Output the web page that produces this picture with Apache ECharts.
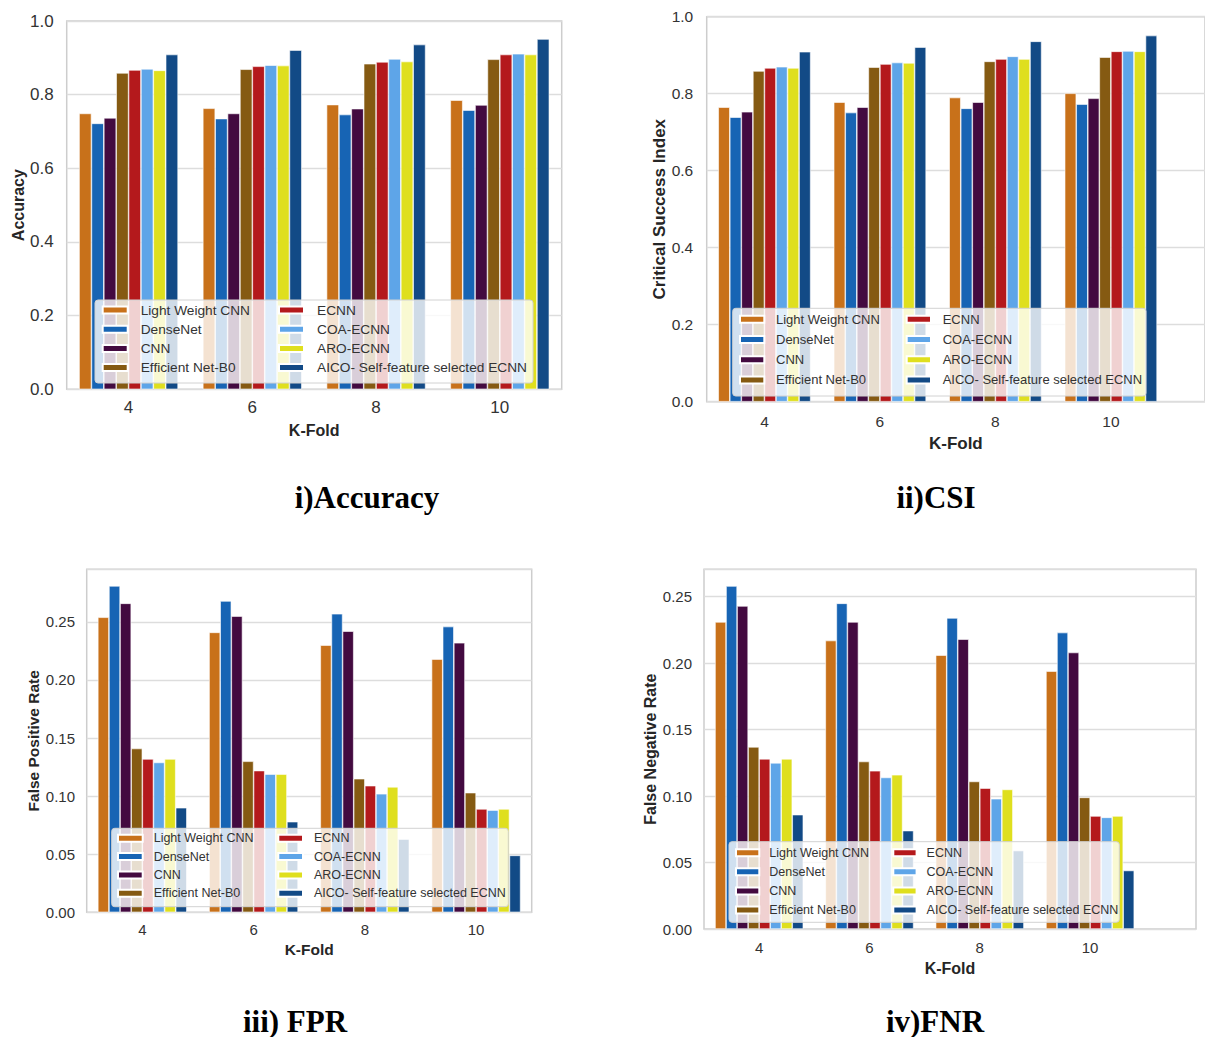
<!DOCTYPE html>
<html>
<head>
<meta charset="utf-8">
<script src="https://cdn.jsdelivr.net/npm/echarts@6/dist/echarts.min.js"></script>
<style>
  html, body { margin: 0; padding: 0; background: #ffffff; }
  #chart { width: 1205px; height: 1037px; }
</style>
</head>
<body>
<div id="chart"></div>
<script>
// ---- data -------------------------------------------------------------
const kFolds = [4, 6, 8, 10];

const models = [
  'Light Weight CNN',
  'DenseNet',
  'CNN',
  'Efficient Net-B0',
  'ECNN',
  'COA-ECNN',
  'ARO-ECNN',
  'AICO- Self-feature selected ECNN'
];

// one row per model (same order as `models`), one value per K-Fold
const accuracy = [
  [0.749, 0.763, 0.773, 0.785],
  [0.722, 0.735, 0.746, 0.758],
  [0.737, 0.749, 0.762, 0.772],
  [0.859, 0.869, 0.884, 0.896],
  [0.867, 0.877, 0.889, 0.909],
  [0.870, 0.880, 0.897, 0.911],
  [0.866, 0.879, 0.890, 0.909],
  [0.909, 0.921, 0.936, 0.951]
];

const csi = [
  [0.765, 0.778, 0.790, 0.801],
  [0.739, 0.751, 0.762, 0.773],
  [0.753, 0.765, 0.778, 0.788],
  [0.859, 0.869, 0.884, 0.895],
  [0.867, 0.877, 0.890, 0.910],
  [0.870, 0.881, 0.897, 0.911],
  [0.867, 0.880, 0.890, 0.910],
  [0.909, 0.921, 0.936, 0.951]
];

const fpr = [
  [0.254, 0.241, 0.230, 0.218],
  [0.281, 0.268, 0.257, 0.246],
  [0.266, 0.255, 0.242, 0.232],
  [0.141, 0.130, 0.115, 0.103],
  [0.132, 0.122, 0.109, 0.089],
  [0.129, 0.119, 0.102, 0.088],
  [0.132, 0.119, 0.108, 0.089],
  [0.090, 0.078, 0.063, 0.049]
];

const fnr = [
  [0.231, 0.217, 0.206, 0.194],
  [0.258, 0.245, 0.234, 0.223],
  [0.243, 0.231, 0.218, 0.208],
  [0.137, 0.126, 0.111, 0.099],
  [0.128, 0.119, 0.106, 0.085],
  [0.125, 0.114, 0.098, 0.084],
  [0.128, 0.116, 0.105, 0.085],
  [0.086, 0.074, 0.059, 0.044]
];

// y-axis ticks: [step, decimals]
const scoreTicks = [0.2, 1];
const rateTicks = [0.05, 2];

// ---- styling ----------------------------------------------------------
const modelColors = [
  '#c8711a', '#1764b4', '#430a40', '#855a12',
  '#b4191c', '#5ea5e8', '#dfdf1e', '#124a86'
];

const SANS = '"Liberation Sans", Arial, sans-serif';
const SERIF = '"Liberation Serif", "Times New Roman", serif';

const panels = [
  {
    title: 'i)Accuracy', yName: 'Accuracy', values: accuracy, ticks: scoreTicks, yMax: 1.0,
    grid: { left: 66.7, top: 21, width: 495, height: 368.3 }, xMax: 11,
    tickFont: 17, nameFont: 16, yLabelMargin: 13, yNameGap: 40, xLabelMargin: 10, xNameGap: 33,
    legend: { a: 101.7, b: 278, top: 302, font: 13.7, gap: 3.2, icon: 25, pad: 8 },
    frame: { x: 95, y: 300, w: 438, h: 83 },
    titlePos: { x: 367, y: 497 }
  },
  {
    title: 'ii)CSI', yName: 'Critical Success Index', values: csi, ticks: scoreTicks, yMax: 1.0,
    grid: { left: 706.7, top: 16.7, width: 503.3, height: 385 }, xMax: 11.63,
    tickFont: 15.5, nameFont: 17, yLabelMargin: 13.5, yNameGap: 36, xLabelMargin: 12, xNameGap: 33,
    legend: { a: 739, b: 905.7, top: 311.3, font: 13, gap: 4.2, icon: 24.3, pad: 6.7 },
    frame: { x: 732.7, y: 308.3, w: 413.3, h: 87.7 },
    titlePos: { x: 936, y: 497 }
  },
  {
    title: 'iii) FPR', yName: 'False Positive Rate', values: fpr, ticks: rateTicks, yMax: 0.2953,
    grid: { left: 86.7, top: 569.3, width: 445, height: 343 }, xMax: 11,
    tickFont: 15, nameFont: 15.5, yLabelMargin: 11.7, yNameGap: 45, xLabelMargin: 10, xNameGap: 29,
    legend: { a: 117, b: 277.3, top: 830.3, font: 12.5, gap: 2.3, icon: 24.7, pad: 6 },
    frame: { x: 111.7, y: 828.3, w: 396.6, h: 78.4 },
    titlePos: { x: 295, y: 1021 }
  },
  {
    title: 'iv)FNR', yName: 'False Negative Rate', values: fnr, ticks: rateTicks, yMax: 0.2706,
    grid: { left: 704, top: 569.3, width: 492, height: 359.7 }, xMax: 11.92,
    tickFont: 15, nameFont: 16, yLabelMargin: 12, yNameGap: 43, xLabelMargin: 11, xNameGap: 31,
    legend: { a: 735, b: 892.3, top: 844.7, font: 12.5, gap: 3.1, icon: 23.3, pad: 5 },
    frame: { x: 729, y: 841.7, w: 390.3, h: 80.6 },
    titlePos: { x: 935, y: 1021 }
  }
];

// ---- option -------------------------------------------------------------
const grids = [], xAxes = [], yAxes = [], series = [], legends = [], graphics = [];

panels.forEach((p, pi) => {
  grids.push(Object.assign({
    show: true, backgroundColor: '#ffffff', borderColor: '#cdcdcd', borderWidth: 1.5,
    containLabel: false
  }, p.grid));

  xAxes.push({
    gridIndex: pi, type: 'value', min: 3, max: p.xMax,
    name: 'K-Fold', nameLocation: 'middle', nameGap: p.xNameGap,
    nameTextStyle: { fontFamily: SANS, fontWeight: 'bold', fontSize: p.nameFont, color: '#262626' },
    axisLine: { show: false }, axisTick: { show: false }, splitLine: { show: false },
    axisLabel: {
      customValues: kFolds, fontFamily: SANS, fontSize: p.tickFont, color: '#333333',
      margin: p.xLabelMargin
    }
  });

  const [step, digits] = p.ticks;
  yAxes.push({
    gridIndex: pi, type: 'value', min: 0, max: p.yMax, interval: step,
    name: p.yName, nameLocation: 'middle', nameGap: p.yNameGap,
    nameTextStyle: { fontFamily: SANS, fontWeight: 'bold', fontSize: p.nameFont, color: '#262626' },
    axisLine: { show: false }, axisTick: { show: false },
    axisLabel: {
      formatter: v => v.toFixed(digits), fontFamily: SANS, fontSize: p.tickFont,
      color: '#333333', margin: p.yLabelMargin,
      showMaxLabel: Math.abs(p.yMax / step - Math.round(p.yMax / step)) < 1e-6
    },
    splitLine: { lineStyle: { color: '#dddddd', width: 1.4 } }
  });

  models.forEach((m, mi) => {
    series.push({
      type: 'bar', name: m, xAxisIndex: pi, yAxisIndex: pi,
      data: kFolds.map((k, ki) => [k, p.values[mi][ki]]),
      barGap: 0, barCategoryGap: '20%',
      itemStyle: { color: modelColors[mi], borderColor: '#ffffff', borderWidth: 0.6 },
      emphasis: { disabled: true }
    });
  });

  const L = p.legend;
  [[L.a, models.slice(0, 4)], [L.b, models.slice(4)]].forEach(([left, names]) => {
    legends.push({
      orient: 'vertical', left: left, top: L.top, padding: 0,
      data: names, icon: 'rect', itemWidth: L.icon, itemHeight: 7, itemGap: L.gap,
      selectedMode: false,
      textStyle: {
        fontFamily: SANS, fontSize: L.font, color: '#333333', lineHeight: 16,
        padding: [0, 0, 0, L.pad]
      }
    });
  });

  // translucent legend frame
  graphics.push({
    type: 'rect', z: 3, silent: true,
    shape: { x: p.frame.x, y: p.frame.y, width: p.frame.w, height: p.frame.h, r: 3 },
    style: { fill: 'rgba(255,255,255,0.8)', stroke: '#d2d2d2', lineWidth: 1 }
  });

  // panel caption
  graphics.push({
    type: 'text', z: 5, silent: true,
    style: {
      x: p.titlePos.x, y: p.titlePos.y, text: p.title,
      textAlign: 'center', textVerticalAlign: 'middle',
      font: 'bold 31px ' + SERIF, fill: '#000000'
    }
  });
});

const chart = echarts.init(document.getElementById('chart'), null, { renderer: 'svg' });
chart.setOption({
  animation: false,
  backgroundColor: '#ffffff',
  grid: grids,
  xAxis: xAxes,
  yAxis: yAxes,
  legend: legends,
  graphic: graphics,
  series: series
});
</script>
</body>
</html>
